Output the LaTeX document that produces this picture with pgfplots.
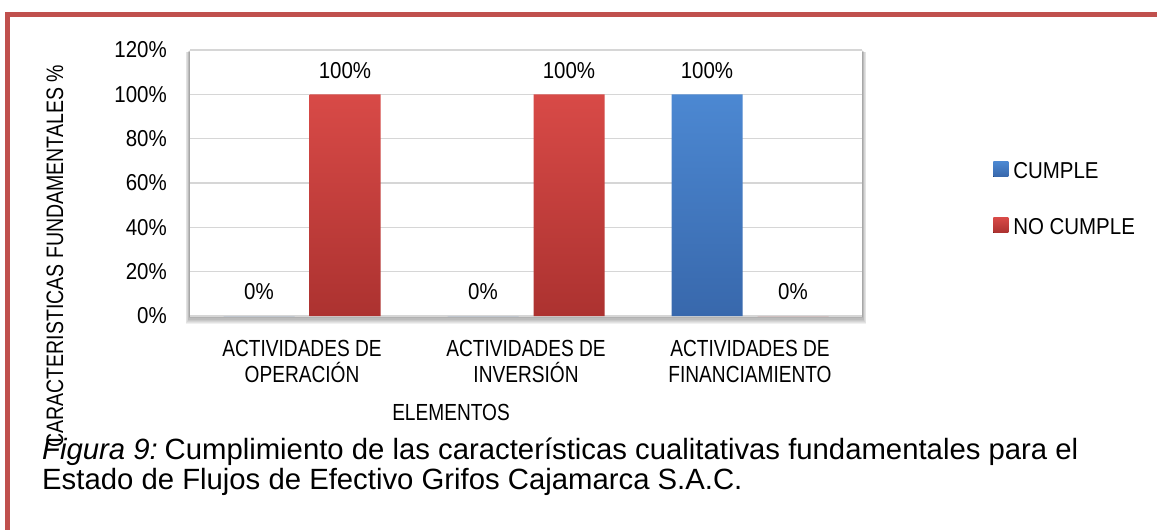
\documentclass[border=0pt]{standalone}
\usepackage{fontspec}
\usepackage{pgfplots}
\pgfplotsset{compat=1.18}
\setmainfont{Liberation Sans}
\newfontfamily\chartfont[FakeStretch=0.89]{Liberation Sans}
\newfontfamily\narrowfont[FakeStretch=0.82]{Liberation Sans}
\definecolor{framered}{RGB}{192,80,77}
\definecolor{redtop}{RGB}{216,74,71}
\definecolor{redbot}{RGB}{172,50,48}
\definecolor{bluetop}{RGB}{76,136,210}
\definecolor{bluebot}{RGB}{56,104,172}
\definecolor{gridgray}{RGB}{214,214,214}
\begin{document}
\begin{tikzpicture}
\path[use as bounding box] (0pt,0pt) rectangle (1157pt,-530pt);
% frame
\fill[framered] (5pt,-12pt) rectangle (1157pt,-16.5pt);
\fill[framered] (5pt,-12pt) rectangle (10pt,-530pt);
% plot area shadow
\foreach \o in {1,2,3,4,5,6,7}{
  \fill[black,opacity=0.06] (190pt-\o pt*0.6,-50pt-\o pt*0.3) rectangle (862pt+\o pt*0.6,-316pt-\o pt*1.2);
}
\begin{axis}[
  at={(190pt,-316pt)}, anchor=south west,
  scale only axis, width=672pt, height=266pt,
  xmin=-0.5, xmax=2.5, ymin=0, ymax=120,
  enlargelimits=false,
  ybar=15pt, bar width=71pt,
  axis background/.style={fill=white},
  axis line style={draw=none},
  major tick length=0pt,
  ymajorgrids,
  major grid style={draw=gridgray, line width=1.5pt},
  ytick={0,20,40,60,80,100,120},
  yticklabels={0\%,20\%,40\%,60\%,80\%,100\%,120\%},
  /pgf/number format/assume math mode=true,
  yticklabel style={anchor=east, inner sep=0pt, xshift=-23pt, font=\chartfont\fontsize{23}{26}\selectfont},
  xtick={0,1,2},
  xticklabels={{ACTIVIDADES DE\\OPERACIÓN},{ACTIVIDADES DE\\INVERSIÓN},{ACTIVIDADES DE\\FINANCIAMIENTO}},
  xticklabel style={anchor=north, inner sep=0pt, yshift=-24pt, align=center, font=\narrowfont\fontsize{23.3}{26}\selectfont},
  xlabel={ELEMENTOS},
  xlabel style={at={(axis description cs:0.3884,-0.391)}, anchor=base, inner sep=0pt, font=\narrowfont\fontsize{23.3}{26}\selectfont},
  ylabel={CARACTERISTICAS FUNDAMENTALES \%},
  ylabel style={at={(axis description cs:-0.2009,0.225)}, anchor=center, rotate=0, inner sep=0pt, font=\narrowfont\fontsize{23.8}{26}\selectfont},
  nodes near coords={\pgfmathprintnumber{\pgfplotspointmeta}\%},
  nodes near coords style={anchor=center, yshift=24pt, font=\chartfont\fontsize{23}{26}\selectfont},
  legend style={at={(axis description cs:1.195,0.4455)}, anchor=west, draw=none, fill=none,
    inner sep=0pt, row sep=39pt,
    nodes={inner sep=0pt, text height=17pt, text depth=0pt},
    font=\chartfont\fontsize{23}{26}\selectfont},
  legend cell align=left,
  legend image code/.code={\fill[#1] (0pt,-7pt) rectangle (15pt,8pt);},
  /tikz/every odd column/.append style={column sep=5pt},
]
\addplot[draw=none, top color=bluetop, bottom color=bluebot] coordinates {(0,0) (1,0) (2,100)};
\addlegendentry{CUMPLE}
\addplot[draw=none, top color=redtop, bottom color=redbot] coordinates {(0,100) (1,100) (2,0)};
\addlegendentry{NO CUMPLE}
\end{axis}
% caption
\node[anchor=base west, align=left, inner sep=0pt, font=\fontsize{29.3}{30}\selectfont] at (42pt,-489pt)
  {{\itshape Figura 9:}\kern-4pt{} Cumplimiento de las características cualitativas fundamentales para el\\Estado de Flujos de Efectivo Grifos Cajamarca S.A.C.};
\end{tikzpicture}
\end{document}
